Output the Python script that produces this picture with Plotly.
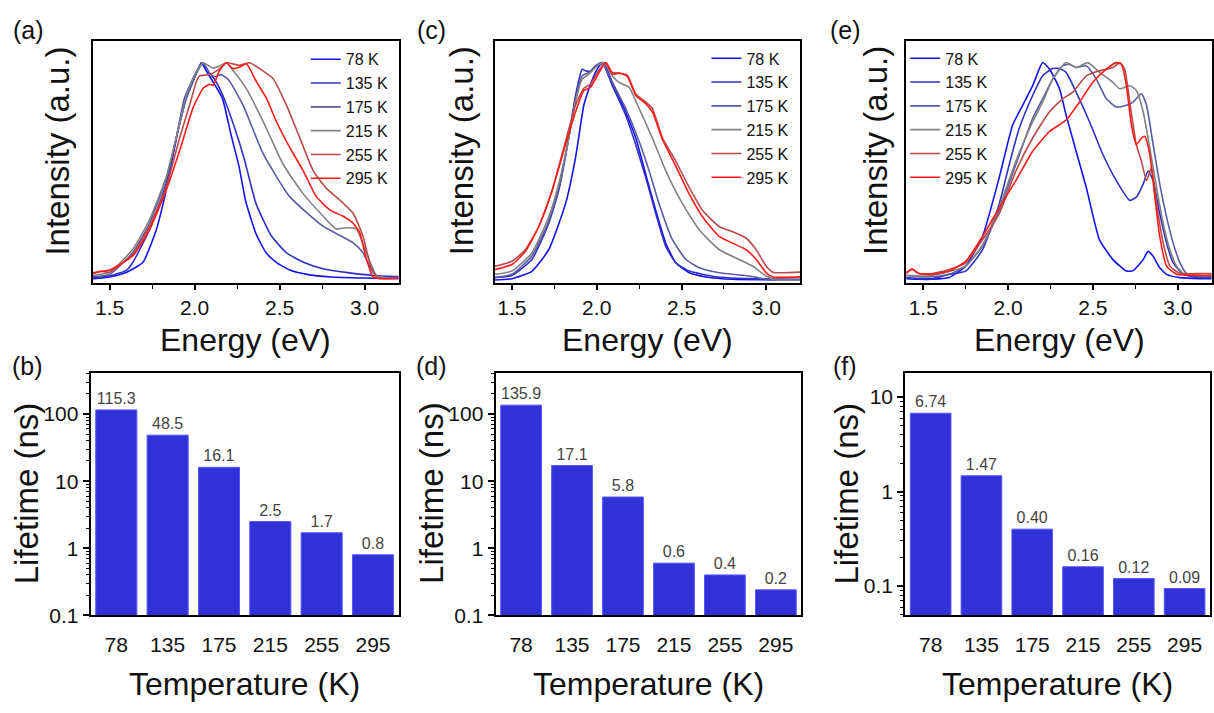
import plotly.graph_objects as go

W, H = 1214, 713
FONT = "Liberation Sans, Arial, sans-serif"

TEMPS = ["78 K", "135 K", "175 K", "215 K", "255 K", "295 K"]
COLORS = ["#1212f2", "#3030c4", "#5a5aa6", "#828282", "#b84a4a", "#ff1a1a"]

# ---------------- panel (a) spectra ----------------
E_A78 = [1.40, 1.50, 1.60, 1.696, 1.775, 1.824, 1.863, 1.902, 1.951, 1.99, 2.039, 2.07, 2.108, 2.163, 2.216, 2.261, 2.30, 2.36, 2.42, 2.48, 2.56, 2.66, 2.80, 3.00, 3.20]
I_A78 = [0.0, 0.008, 0.03, 0.076, 0.228, 0.38, 0.532, 0.684, 0.836, 0.912, 1.0, 0.96, 0.912, 0.836, 0.66, 0.52, 0.36, 0.21, 0.12, 0.076, 0.04, 0.02, 0.008, 0.003, 0.0]
E_A135 = [1.40, 1.50, 1.60, 1.637, 1.735, 1.833, 1.892, 1.941, 2.01, 2.049, 2.08, 2.12, 2.17, 2.255, 2.30, 2.36, 2.45, 2.54, 2.64, 2.755, 2.90, 3.05, 3.20]
I_A135 = [0.005, 0.012, 0.04, 0.076, 0.228, 0.441, 0.653, 0.836, 0.957, 1.0, 0.96, 0.92, 0.84, 0.65, 0.53, 0.35, 0.20, 0.12, 0.076, 0.046, 0.028, 0.015, 0.01]
E_A175 = [1.40, 1.50, 1.637, 1.735, 1.833, 1.892, 1.951, 2.01, 2.049, 2.09, 2.12, 2.157, 2.20, 2.284, 2.402, 2.559, 2.755, 2.931, 2.99, 3.049, 3.09, 3.20]
I_A175 = [0.01, 0.02, 0.122, 0.258, 0.464, 0.653, 0.836, 0.95, 1.0, 0.95, 0.935, 0.945, 0.92, 0.805, 0.58, 0.38, 0.243, 0.167, 0.12, 0.03, 0.005, 0.003]
E_A215 = [1.40, 1.50, 1.637, 1.735, 1.833, 1.892, 1.951, 2.01, 2.049, 2.108, 2.147, 2.186, 2.22, 2.304, 2.402, 2.52, 2.637, 2.755, 2.833, 2.892, 2.951, 3.01, 3.069, 3.12, 3.20]
I_A215 = [0.015, 0.03, 0.137, 0.274, 0.471, 0.653, 0.851, 0.957, 1.0, 0.975, 0.985, 1.0, 0.97, 0.88, 0.73, 0.53, 0.395, 0.29, 0.23, 0.236, 0.23, 0.12, 0.015, 0.003, 0.003]
E_A255 = [1.40, 1.45, 1.50, 1.637, 1.735, 1.833, 1.912, 1.971, 2.01, 2.029, 2.088, 2.147, 2.186, 2.265, 2.324, 2.382, 2.461, 2.539, 2.618, 2.696, 2.775, 2.853, 2.931, 2.99, 3.029, 3.069, 3.12, 3.20]
I_A255 = [0.023, 0.035, 0.03, 0.114, 0.243, 0.426, 0.653, 0.805, 0.912, 0.939, 0.945, 0.973, 1.0, 0.988, 1.0, 0.973, 0.927, 0.805, 0.653, 0.502, 0.418, 0.365, 0.304, 0.198, 0.076, 0.008, 0.0, 0.002]
E_A295 = [1.40, 1.45, 1.50, 1.637, 1.735, 1.833, 1.912, 1.99, 2.049, 2.088, 2.108, 2.147, 2.186, 2.225, 2.265, 2.304, 2.324, 2.363, 2.422, 2.48, 2.559, 2.637, 2.716, 2.794, 2.873, 2.931, 2.971, 3.01, 3.049, 3.088, 3.20]
I_A295 = [0.027, 0.033, 0.04, 0.106, 0.228, 0.41, 0.593, 0.79, 0.881, 0.90, 0.895, 0.965, 1.0, 0.973, 0.98, 0.995, 0.973, 0.912, 0.836, 0.729, 0.608, 0.502, 0.38, 0.319, 0.289, 0.258, 0.213, 0.091, 0.008, 0.0, 0.003]

# ---------------- panel (c) spectra ----------------
E_C78 = [1.40, 1.50, 1.618, 1.717, 1.816, 1.875, 1.924, 1.954, 1.993, 2.023, 2.042, 2.092, 2.171, 2.23, 2.289, 2.348, 2.407, 2.466, 2.545, 2.644, 2.80, 3.20]
I_C78 = [0.0, 0.006, 0.04, 0.139, 0.35, 0.562, 0.804, 0.879, 0.955, 0.992, 1.0, 0.909, 0.773, 0.653, 0.486, 0.32, 0.169, 0.079, 0.033, 0.014, 0.003, 0.0]
E_C135 = [1.40, 1.50, 1.618, 1.717, 1.776, 1.835, 1.875, 1.914, 1.934, 1.964, 1.993, 2.033, 2.092, 2.171, 2.23, 2.289, 2.348, 2.407, 2.466, 2.545, 2.703, 2.90, 3.20]
I_C135 = [0.01, 0.021, 0.094, 0.26, 0.411, 0.653, 0.849, 0.97, 0.962, 0.962, 0.985, 1.0, 0.894, 0.758, 0.622, 0.471, 0.305, 0.154, 0.079, 0.041, 0.015, 0.006, 0.003]
E_C175 = [1.40, 1.50, 1.618, 1.717, 1.776, 1.835, 1.875, 1.914, 1.954, 1.993, 2.033, 2.092, 2.171, 2.25, 2.309, 2.368, 2.447, 2.526, 2.605, 2.723, 2.90, 3.0, 3.20]
I_C175 = [0.012, 0.026, 0.11, 0.27, 0.42, 0.653, 0.83, 0.94, 0.955, 0.98, 1.0, 0.909, 0.789, 0.637, 0.502, 0.35, 0.184, 0.094, 0.056, 0.033, 0.018, 0.003, 0.0]
E_C215 = [1.40, 1.50, 1.618, 1.717, 1.776, 1.835, 1.875, 1.914, 1.954, 2.003, 2.042, 2.092, 2.131, 2.19, 2.25, 2.328, 2.407, 2.506, 2.605, 2.723, 2.841, 2.92, 2.999, 3.058, 3.20]
I_C215 = [0.026, 0.041, 0.124, 0.29, 0.441, 0.653, 0.819, 0.924, 0.947, 0.985, 1.0, 0.94, 0.909, 0.887, 0.789, 0.653, 0.502, 0.35, 0.23, 0.139, 0.094, 0.063, 0.018, 0.0, 0.0]
E_C255 = [1.40, 1.50, 1.579, 1.658, 1.737, 1.816, 1.875, 1.924, 1.964, 1.993, 2.033, 2.056, 2.092, 2.131, 2.18, 2.23, 2.289, 2.328, 2.388, 2.466, 2.545, 2.624, 2.723, 2.802, 2.881, 2.94, 2.999, 3.038, 3.20]
I_C255 = [0.063, 0.086, 0.139, 0.245, 0.411, 0.637, 0.804, 0.882, 0.902, 0.94, 0.985, 1.0, 0.955, 0.952, 0.943, 0.856, 0.819, 0.789, 0.653, 0.547, 0.426, 0.32, 0.245, 0.222, 0.192, 0.139, 0.063, 0.036, 0.036]
E_C295 = [1.40, 1.50, 1.579, 1.658, 1.737, 1.816, 1.875, 1.924, 1.964, 2.003, 2.052, 2.092, 2.131, 2.18, 2.23, 2.289, 2.328, 2.388, 2.466, 2.545, 2.624, 2.723, 2.802, 2.881, 2.94, 2.999, 3.038, 3.20]
I_C295 = [0.048, 0.071, 0.131, 0.245, 0.411, 0.622, 0.773, 0.872, 0.887, 0.94, 1.0, 0.947, 0.952, 0.937, 0.849, 0.811, 0.773, 0.645, 0.524, 0.396, 0.29, 0.199, 0.169, 0.139, 0.094, 0.033, 0.014, 0.014]

# ---------------- panel (e) spectra ----------------
E_E78 = [1.40, 1.474, 1.553, 1.652, 1.75, 1.849, 1.948, 2.027, 2.086, 2.145, 2.204, 2.244, 2.303, 2.342, 2.401, 2.461, 2.539, 2.618, 2.697, 2.737, 2.796, 2.825, 2.855, 2.894, 2.934, 3.013, 3.131, 3.20]
I_E78 = [0.003, 0.0, 0.0, 0.008, 0.061, 0.197, 0.47, 0.712, 0.803, 0.894, 1.0, 0.97, 0.879, 0.758, 0.591, 0.424, 0.182, 0.091, 0.038, 0.04, 0.091, 0.129, 0.106, 0.053, 0.023, 0.008, 0.003, 0.003]
E_E135 = [1.40, 1.474, 1.553, 1.652, 1.75, 1.849, 1.948, 2.007, 2.066, 2.145, 2.204, 2.263, 2.303, 2.342, 2.401, 2.48, 2.559, 2.638, 2.717, 2.756, 2.796, 2.825, 2.855, 2.894, 2.934, 2.973, 3.033, 3.131, 3.20]
I_E135 = [0.008, 0.003, 0.003, 0.023, 0.038, 0.136, 0.348, 0.53, 0.697, 0.848, 0.939, 0.973, 0.973, 0.955, 0.864, 0.727, 0.576, 0.455, 0.364, 0.379, 0.439, 0.50, 0.455, 0.303, 0.167, 0.076, 0.023, 0.008, 0.008]
E_E175 = [1.40, 1.474, 1.553, 1.652, 1.75, 1.849, 1.948, 2.046, 2.145, 2.204, 2.263, 2.322, 2.362, 2.401, 2.461, 2.52, 2.579, 2.638, 2.697, 2.737, 2.786, 2.816, 2.855, 2.894, 2.934, 2.973, 3.013, 3.052, 3.131, 3.20]
I_E175 = [0.018, 0.012, 0.012, 0.023, 0.061, 0.152, 0.318, 0.53, 0.742, 0.833, 0.924, 0.985, 0.992, 0.977, 0.985, 0.924, 0.833, 0.795, 0.803, 0.818, 0.856, 0.803, 0.621, 0.439, 0.288, 0.167, 0.076, 0.027, 0.012, 0.012]
E_E215 = [1.40, 1.474, 1.553, 1.75, 1.849, 1.948, 2.046, 2.145, 2.204, 2.263, 2.342, 2.401, 2.47, 2.539, 2.618, 2.658, 2.717, 2.756, 2.796, 2.835, 2.875, 2.914, 2.954, 2.993, 3.033, 3.131, 3.20]
I_E215 = [0.018, 0.015, 0.018, 0.061, 0.159, 0.333, 0.545, 0.727, 0.818, 0.924, 1.0, 0.977, 1.0, 0.955, 0.909, 0.879, 0.894, 0.871, 0.773, 0.606, 0.424, 0.258, 0.136, 0.061, 0.027, 0.018, 0.018]
E_E255 = [1.40, 1.435, 1.474, 1.553, 1.652, 1.75, 1.849, 1.948, 2.046, 2.145, 2.244, 2.322, 2.382, 2.461, 2.539, 2.618, 2.658, 2.687, 2.717, 2.756, 2.786, 2.816, 2.845, 2.875, 2.914, 2.954, 3.013, 3.131, 3.20]
I_E255 = [0.033, 0.045, 0.027, 0.027, 0.045, 0.076, 0.182, 0.303, 0.50, 0.652, 0.773, 0.833, 0.864, 0.939, 0.962, 0.977, 1.0, 0.97, 0.818, 0.621, 0.545, 0.455, 0.515, 0.348, 0.167, 0.061, 0.027, 0.027, 0.027]
E_E295 = [1.40, 1.435, 1.474, 1.553, 1.652, 1.75, 1.849, 1.948, 2.046, 2.145, 2.244, 2.342, 2.421, 2.50, 2.579, 2.638, 2.668, 2.697, 2.727, 2.756, 2.786, 2.806, 2.835, 2.865, 2.894, 2.934, 2.993, 3.131, 3.20]
I_E295 = [0.027, 0.048, 0.027, 0.023, 0.038, 0.083, 0.197, 0.33, 0.455, 0.591, 0.682, 0.735, 0.818, 0.909, 0.97, 1.0, 0.992, 0.894, 0.712, 0.621, 0.652, 0.659, 0.576, 0.379, 0.197, 0.061, 0.023, 0.018, 0.018]

# ---------------- lifetimes (bars) ----------------
TEMP_CATS = ["78", "135", "175", "215", "255", "295"]
LIFE_B = [115.3, 48.5, 16.1, 2.5, 1.7, 0.8]
LIFE_D = [135.9, 17.1, 5.8, 0.6, 0.4, 0.24]
LIFE_F = [6.74, 1.47, 0.40, 0.16, 0.12, 0.094]

SPECTRA = {
    "a": [(E_A78, I_A78), (E_A135, I_A135), (E_A175, I_A175), (E_A215, I_A215), (E_A255, I_A255), (E_A295, I_A295)],
    "c": [(E_C78, I_C78), (E_C135, I_C135), (E_C175, I_C175), (E_C215, I_C215), (E_C255, I_C255), (E_C295, I_C295)],
    "e": [(E_E78, I_E78), (E_E135, I_E135), (E_E175, I_E175), (E_E215, I_E215), (E_E255, I_E255), (E_E295, I_E295)],
}

fig = go.Figure()

spec_axes = {"a": ("x", "y", "legend"), "c": ("x2", "y2", "legend2"), "e": ("x3", "y3", "legend3")}
for key, curves in SPECTRA.items():
    xa, ya, lg = spec_axes[key]
    for (e, i), name, col in zip(curves, TEMPS, COLORS):
        fig.add_trace(go.Scatter(
            x=e, y=i, mode="lines", name=name, legend=lg,
            line=dict(color=col, width=1.6, shape="spline", smoothing=0.5),
            xaxis=xa, yaxis=ya,
        ))

bar_sets = [(LIFE_B, "x4", "y4", "%{y:.1f}"), (LIFE_D, "x5", "y5", "%{y:.1f}"), (LIFE_F, "x6", "y6", "%{y:.2f}")]
for vals, xa, ya, tt in bar_sets:
    fig.add_trace(go.Bar(
        x=TEMP_CATS, y=vals, xaxis=xa, yaxis=ya, showlegend=False,
        marker=dict(color="#3131d8", line=dict(color="#5555ff", width=1)),
        texttemplate=tt, textposition="outside", constraintext="none", cliponaxis=False,
        textfont=dict(size=16, color="#444444", family=FONT),
    ))


def px_x(a, b):
    return [a / W, b / W]


def px_y(top, bottom):
    return [1 - bottom / H, 1 - top / H]


line_kw = dict(showline=True, linecolor="black", linewidth=2, mirror=True, showgrid=False, zeroline=False)
tick_font = dict(size=21, color="#111111", family=FONT)

spec_x = dict(range=[1.4, 3.2], tick0=1.5, dtick=0.5, tickformat=".1f", ticks="outside", ticklen=5, tickwidth=1.5,
              tickcolor="black", tickfont=tick_font,
              minor=dict(dtick=0.25, tick0=1.5, ticks="outside", ticklen=4, tickwidth=1.2, tickcolor="black"),
              **line_kw)
spec_y = dict(showticklabels=False, ticks="", **line_kw)

bar_x = dict(type="category", range=[-0.5, 5.5], ticks="", tickfont=tick_font, ticklabelstandoff=9, **line_kw)
bar_y = dict(type="log", dtick=1, ticks="outside", ticklen=6, tickwidth=1.5, tickcolor="black",
             tickfont=tick_font,
             minor=dict(ticks="outside", ticklen=3, tickwidth=1, tickcolor="black"),
             **line_kw)

layout = dict(
    width=W, height=H, margin=dict(l=0, r=0, t=0, b=0),
    paper_bgcolor="white", plot_bgcolor="white",
    font=dict(family=FONT, color="#111111"),
    bargap=0.2,
    xaxis=dict(domain=px_x(92.7, 399), anchor="y", **spec_x),
    yaxis=dict(domain=px_y(42, 287), anchor="x", range=[-0.018, 1.099], **spec_y),
    xaxis2=dict(domain=px_x(495.3, 801), anchor="y2", **spec_x),
    yaxis2=dict(domain=px_y(42, 287), anchor="x2", range=[-0.012, 1.098], **spec_y),
    xaxis3=dict(domain=px_x(907, 1212.7), anchor="y3", **spec_x),
    yaxis3=dict(domain=px_y(42, 287), anchor="x3", range=[-0.015, 1.098], **spec_y),
    xaxis4=dict(domain=px_x(90.7, 399), anchor="y4", **bar_x),
    yaxis4=dict(domain=px_y(379, 625), anchor="x4", range=[-1, 2.61], **bar_y),
    xaxis5=dict(domain=px_x(496, 802), anchor="y5", **bar_x),
    yaxis5=dict(domain=px_y(379, 625), anchor="x5", range=[-1, 2.61], **bar_y),
    xaxis6=dict(domain=px_x(906, 1211), anchor="y6", **bar_x),
    yaxis6=dict(domain=px_y(379, 625), anchor="x6", range=[-1.31, 1.253], **bar_y),
)

leg_common = dict(font=dict(size=16, color="#111111", family=FONT), bgcolor="rgba(0,0,0,0)",
                  borderwidth=0, xanchor="left", yanchor="top", tracegroupgap=0)
layout["legend"] = dict(x=306 / W, y=1 - 43 / H, **leg_common)
layout["legend2"] = dict(x=707 / W, y=1 - 42 / H, **leg_common)
layout["legend3"] = dict(x=906 / W, y=1 - 42 / H, **leg_common)

ann = []


def text_ann(txt, x, y, size, angle=0):
    ann.append(dict(text=txt, x=x / W, y=1 - y / H, xref="paper", yref="paper", showarrow=False,
                    xanchor="center", yanchor="middle", textangle=angle,
                    font=dict(size=size, color="#111111", family=FONT)))


for lbl, x, y in [("(a)", 29, 30), ("(c)", 432, 30), ("(e)", 846, 30),
                  ("(b)", 28, 372), ("(d)", 432, 372), ("(f)", 846, 372)]:
    text_ann(lbl, x, y, 25)

for x in [58, 462, 876]:
    text_ann("Intensity (a.u.)", x, 153, 33, -90)
for x in [246, 648, 1060]:
    text_ann("Energy (eV)", x, 345, 32)
for x in [26, 432, 847]:
    text_ann("Lifetime (ns)", x, 501, 33, -90)
for x in [245, 649, 1058]:
    text_ann("Temperature (K)", x, 695, 32)

layout["annotations"] = ann
fig.update_layout(**layout)

fig.write_html("out.html", config={"displayModeBar": False},
               post_script="document.body.style.margin='0px';document.body.style.overflow='hidden';")
